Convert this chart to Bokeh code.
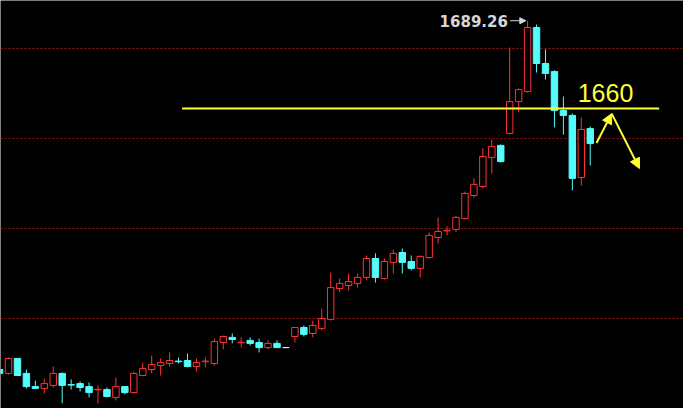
from bokeh.plotting import figure
from bokeh.models import ColumnDataSource, FixedTicker, Range1d, Arrow, NormalHead, Label
from bokeh.embed import file_html
from bokeh.resources import INLINE

# ---- data ----
opens = [1573.0, 1571.7, 1576.7, 1571.7, 1567.3, 1566.7, 1567.7, 1571.7, 1568.0, 1568.3, 1567.3,
         1566.2, 1566.3, 1563.7, 1567.3, 1565.3, 1571.0, 1573.0, 1574.3, 1575.0, 1575.8, 1576.0,
         1574.0, 1575.6, 1575.0, 1582.0, 1583.7, 1581.9, 1582.7, 1582.0, 1580.3, 1581.7, 1580.3,
         1584.0, 1587.0, 1585.0, 1586.7, 1589.7, 1600.0, 1601.0, 1601.7, 1603.7, 1610.0, 1603.3,
         1608.7, 1612.0, 1609.0, 1606.7, 1610.3, 1617.0, 1619.2, 1619.7, 1623.3, 1631.0, 1634.0,
         1643.7, 1647.7, 1651.7, 1662.3, 1665.7, 1687.0, 1675.0, 1672.3, 1659.3, 1657.7, 1637.0,
         1653.3]
highs = [1573.3, 1577.0, 1576.8, 1573.0, 1569.3, 1570.0, 1574.0, 1572.0, 1569.7, 1569.0, 1568.7,
         1567.7, 1567.0, 1570.3, 1567.5, 1572.3, 1575.3, 1577.7, 1576.7, 1578.7, 1577.0, 1578.3,
         1576.7, 1577.0, 1583.3, 1584.3, 1585.0, 1583.7, 1583.7, 1583.3, 1582.7, 1582.7, 1580.3,
         1587.0, 1587.7, 1589.3, 1593.3, 1605.3, 1603.3, 1605.0, 1605.0, 1611.0, 1611.7, 1610.0,
         1613.0, 1613.3, 1611.0, 1611.0, 1618.7, 1623.7, 1620.7, 1624.3, 1632.3, 1636.7, 1646.7,
         1649.7, 1648.0, 1680.3, 1666.7, 1689.26, 1688.0, 1679.7, 1672.7, 1664.0, 1658.3, 1657.0,
         1654.0]
lows = [1571.3, 1571.3, 1570.9, 1566.7, 1566.6, 1565.0, 1567.0, 1561.7, 1566.3, 1565.7, 1563.7,
        1561.7, 1563.7, 1562.7, 1564.7, 1565.0, 1570.7, 1571.7, 1571.0, 1574.0, 1575.0, 1573.7,
        1572.3, 1573.7, 1574.3, 1579.7, 1581.7, 1580.3, 1581.0, 1578.7, 1579.7, 1580.3, 1580.3,
        1582.0, 1584.0, 1583.7, 1586.0, 1589.3, 1598.7, 1599.3, 1600.3, 1602.7, 1602.0, 1603.0,
        1605.0, 1605.0, 1606.0, 1603.7, 1610.0, 1615.0, 1617.7, 1618.7, 1623.0, 1630.3, 1633.3,
        1638.3, 1642.0, 1651.3, 1658.7, 1665.3, 1672.0, 1669.7, 1653.7, 1651.3, 1632.7, 1634.3,
        1641.0]
closes = [1571.7, 1576.7, 1571.0, 1567.3, 1566.7, 1568.3, 1571.7, 1567.7, 1567.8, 1567.0, 1565.3,
          1566.4, 1564.0, 1567.3, 1565.3, 1571.7, 1573.3, 1574.7, 1575.3, 1576.0, 1575.6, 1574.0,
          1575.3, 1575.8, 1582.3, 1584.0, 1583.0, 1582.1, 1581.7, 1580.3, 1581.7, 1580.3, 1580.3,
          1587.0, 1584.7, 1587.7, 1590.0, 1600.3, 1601.7, 1602.3, 1603.7, 1610.0, 1603.7, 1609.0,
          1611.7, 1608.7, 1606.7, 1610.7, 1617.7, 1619.0, 1619.4, 1623.7, 1631.7, 1634.7, 1644.0,
          1647.3, 1642.3, 1662.3, 1666.3, 1687.0, 1675.0, 1671.7, 1659.3, 1657.7, 1636.7, 1653.0,
          1648.3]
first_index = -1

grid_levels = [1590, 1620, 1650, 1680]
level_value = 1660
level_text = "1660"
level_span = [19.4, 72.7]          # start / end of the yellow line (candle index)
peak_value = 1689.26
peak_text = "1689.26"
arrow_path_x = [65.7, 67.4, 70.5]   # yellow zig-zag arrows
arrow_path_y = [1648.5, 1658.3, 1640.0]

# ---- build ----
n = len(opens)
xs = [first_index + k for k in range(n)]
UP, DOWN, FLAT = "#ff3232", "#54fcfc", "#e8e8e8"
cols, fills, tops, bots = [], [], [], []
for o, c in zip(opens, closes):
    if c > o:
        cols.append(UP); fills.append("black")
    elif c < o:
        cols.append(DOWN); fills.append(DOWN)
    else:
        cols.append(FLAT); fills.append(FLAT)
    tops.append(max(o, c)); bots.append(min(o, c))

src = ColumnDataSource(dict(x=xs, o=opens, h=highs, l=lows, c=closes,
                            top=tops, bottom=bots, col=cols, fill=fills))

W, H = 683, 408
p = figure(width=W, height=H, output_backend="svg", toolbar_location=None,
           x_range=Range1d(-0.894, 75.42), y_range=Range1d(1560, 1696),
           background_fill_color="black", border_fill_color="black",
           min_border=0, outline_line_color=None)
p.axis.visible = False
p.xgrid.visible = False
p.ygrid.ticker = FixedTicker(ticks=grid_levels)
p.ygrid.grid_line_color = "#9a1010"
p.ygrid.grid_line_dash = "2 2"
p.ygrid.grid_line_width = 1

p.segment(x0="x", y0="l", x1="x", y1="h", color="col", line_width=1, source=src)
p.vbar(x="x", top="top", bottom="bottom", width=0.72, fill_color="fill",
       line_color="col", line_width=1, source=src)

# yellow level line
p.line(x=level_span, y=[level_value, level_value], line_color="#ffff33", line_width=2)
p.add_layout(Label(x=63.6, y=level_value + 5.2, text=level_text, text_color="#ffff33",
                   text_font="Liberation Sans", text_font_size="25px",
                   text_baseline="alphabetic", text_align="left"))

# peak label
peak_i = xs[highs.index(max(highs))]
p.add_layout(Label(x=peak_i - 2.2, y=peak_value, text=peak_text, text_color="#d6d6d6",
                   text_font="DejaVu Sans", text_font_style="bold", text_font_size="15px",
                   text_baseline="middle", text_align="right"))
p.add_layout(Arrow(x_start=peak_i - 1.95, y_start=peak_value, x_end=peak_i - 0.2, y_end=peak_value,
                   line_color="#d6d6d6", line_width=1,
                   end=NormalHead(size=6, fill_color="#d6d6d6", line_color="#d6d6d6")))

# yellow zig-zag arrows
for k in range(len(arrow_path_x) - 1):
    p.add_layout(Arrow(x_start=arrow_path_x[k], y_start=arrow_path_y[k],
                       x_end=arrow_path_x[k + 1], y_end=arrow_path_y[k + 1],
                       line_color="#ffff33", line_width=2,
                       end=NormalHead(size=10, fill_color="#ffff33", line_color="#ffff33")))

open("out.html", "w").write(file_html(p, INLINE))
